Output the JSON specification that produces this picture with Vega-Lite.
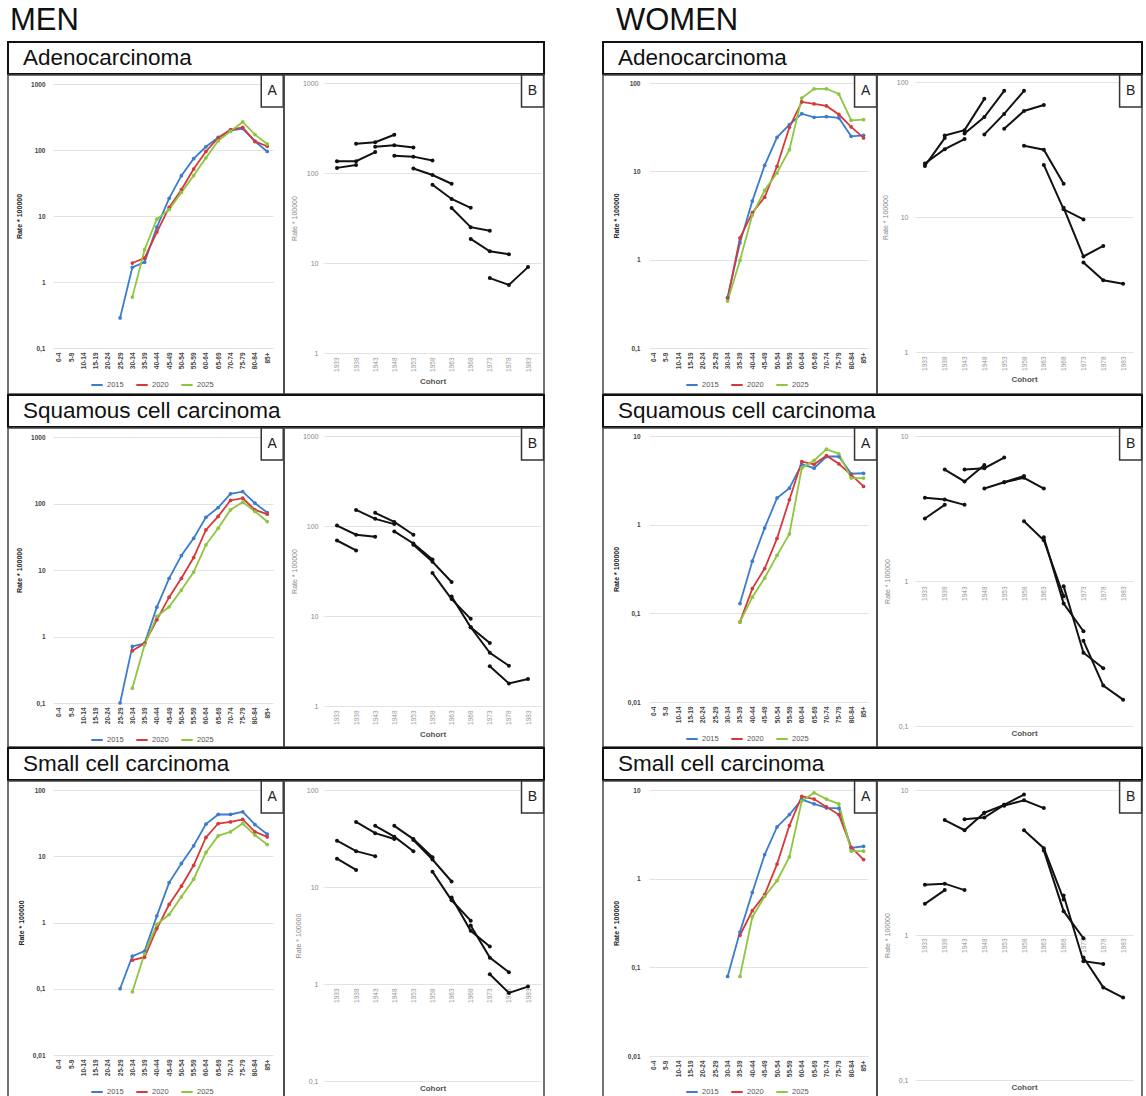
{
"$schema": "https://vega.github.io/schema/vega-lite/v6.json",
"padding": {"left": 7, "top": 5, "right": 0, "bottom": 0},
"background": "white",
"config": {
 "font": "Liberation Sans",
 "view": {"stroke": "#444", "strokeWidth": 1.5},
 "axis": {"domain": false, "ticks": false, "grid": false, "labelOverlap": false},
 "axisY": {"grid": true, "gridColor": "#e2e2e2", "gridWidth": 1, "labelPadding": 4, "titleFontSize": 7},
 "axisX": {"labelAngle": -90, "labelPadding": 2},
 "legend": {"symbolType": "stroke", "symbolStrokeWidth": 2, "symbolSize": 130, "labelFontSize": 7.5, "labelColor": "#555", "columnPadding": 8, "labelOffset": 3, "padding": 0}
},
"datasets": {
 "mAd": [
  {"a":"25-29","p":"2015","v":0.285},{"a":"30-34","p":"2015","v":1.67},{"a":"35-39","p":"2015","v":2.0},
  {"a":"40-44","p":"2015","v":6.8,"c":1973},{"a":"45-49","p":"2015","v":18.5,"c":1968},{"a":"50-54","p":"2015","v":40.8,"c":1963},
  {"a":"55-59","p":"2015","v":74,"c":1958},{"a":"60-64","p":"2015","v":112,"c":1953},{"a":"65-69","p":"2015","v":155,"c":1948},
  {"a":"70-74","p":"2015","v":196,"c":1943},{"a":"75-79","p":"2015","v":211,"c":1938},{"a":"80-84","p":"2015","v":135,"c":1933},
  {"a":"85+","p":"2015","v":95},
  {"a":"30-34","p":"2020","v":1.94},{"a":"35-39","p":"2020","v":2.3},
  {"a":"40-44","p":"2020","v":5.7,"c":1978},{"a":"45-49","p":"2020","v":13.5,"c":1973},{"a":"50-54","p":"2020","v":25,"c":1968},
  {"a":"55-59","p":"2020","v":51.5,"c":1963},{"a":"60-64","p":"2020","v":95,"c":1958},{"a":"65-69","p":"2020","v":152,"c":1953},
  {"a":"70-74","p":"2020","v":203,"c":1948},{"a":"75-79","p":"2020","v":220,"c":1943},{"a":"80-84","p":"2020","v":135,"c":1938},
  {"a":"85+","p":"2020","v":114,"c":1933},
  {"a":"30-34","p":"2025","v":0.59},{"a":"35-39","p":"2025","v":3.1},
  {"a":"40-44","p":"2025","v":9.0,"c":1983},{"a":"45-49","p":"2025","v":12.5,"c":1978},{"a":"50-54","p":"2025","v":22.8,"c":1973},
  {"a":"55-59","p":"2025","v":41,"c":1968},{"a":"60-64","p":"2025","v":76,"c":1963},{"a":"65-69","p":"2025","v":138,"c":1958},
  {"a":"70-74","p":"2025","v":192,"c":1953},{"a":"75-79","p":"2025","v":266,"c":1948},{"a":"80-84","p":"2025","v":171,"c":1943},
  {"a":"85+","p":"2025","v":123,"c":1938}
 ],
 "mSq": [
  {"a":"25-29","p":"2015","v":0.1},{"a":"30-34","p":"2015","v":0.71},{"a":"35-39","p":"2015","v":0.79},
  {"a":"40-44","p":"2015","v":2.76,"c":1973},{"a":"45-49","p":"2015","v":7.5,"c":1968},{"a":"50-54","p":"2015","v":16.5,"c":1963},
  {"a":"55-59","p":"2015","v":30,"c":1958},{"a":"60-64","p":"2015","v":62,"c":1953},{"a":"65-69","p":"2015","v":87,"c":1948},
  {"a":"70-74","p":"2015","v":140,"c":1943},{"a":"75-79","p":"2015","v":151,"c":1938},{"a":"80-84","p":"2015","v":101,"c":1933},
  {"a":"85+","p":"2015","v":73},
  {"a":"30-34","p":"2020","v":0.61},{"a":"35-39","p":"2020","v":0.79},
  {"a":"40-44","p":"2020","v":1.78,"c":1978},{"a":"45-49","p":"2020","v":3.9,"c":1973},{"a":"50-54","p":"2020","v":7.5,"c":1968},
  {"a":"55-59","p":"2020","v":15.4,"c":1963},{"a":"60-64","p":"2020","v":40,"c":1958},{"a":"65-69","p":"2020","v":64,"c":1953},
  {"a":"70-74","p":"2020","v":111,"c":1948},{"a":"75-79","p":"2020","v":120,"c":1943},{"a":"80-84","p":"2020","v":80,"c":1938},
  {"a":"85+","p":"2020","v":69,"c":1933},
  {"a":"30-34","p":"2025","v":0.167},{"a":"35-39","p":"2025","v":0.75},
  {"a":"40-44","p":"2025","v":2.0,"c":1983},{"a":"45-49","p":"2025","v":2.8,"c":1978},{"a":"50-54","p":"2025","v":5.0,"c":1973},
  {"a":"55-59","p":"2025","v":9.3,"c":1968},{"a":"60-64","p":"2025","v":23.9,"c":1963},{"a":"65-69","p":"2025","v":42.5,"c":1958},
  {"a":"70-74","p":"2025","v":80,"c":1953},{"a":"75-79","p":"2025","v":105,"c":1948},{"a":"80-84","p":"2025","v":76,"c":1943},
  {"a":"85+","p":"2025","v":53.6,"c":1938}
 ],
 "mSm": [
  {"a":"25-29","p":"2015","v":0.1},{"a":"30-34","p":"2015","v":0.31},{"a":"35-39","p":"2015","v":0.37},
  {"a":"40-44","p":"2015","v":1.26,"c":1973},{"a":"45-49","p":"2015","v":4.0,"c":1968},{"a":"50-54","p":"2015","v":7.8,"c":1963},
  {"a":"55-59","p":"2015","v":14.4,"c":1958},{"a":"60-64","p":"2015","v":30.5,"c":1953},{"a":"65-69","p":"2015","v":42.7,"c":1948},
  {"a":"70-74","p":"2015","v":42.7,"c":1943},{"a":"75-79","p":"2015","v":46.8,"c":1938},{"a":"80-84","p":"2015","v":30,"c":1933},
  {"a":"85+","p":"2015","v":21.5},
  {"a":"30-34","p":"2020","v":0.27},{"a":"35-39","p":"2020","v":0.3},
  {"a":"40-44","p":"2020","v":0.81,"c":1978},{"a":"45-49","p":"2020","v":1.87,"c":1973},{"a":"50-54","p":"2020","v":3.53,"c":1968},
  {"a":"55-59","p":"2020","v":7.3,"c":1963},{"a":"60-64","p":"2020","v":19.2,"c":1958},{"a":"65-69","p":"2020","v":31.2,"c":1953},
  {"a":"70-74","p":"2020","v":33,"c":1948},{"a":"75-79","p":"2020","v":35.9,"c":1943},{"a":"80-84","p":"2020","v":23.4,"c":1938},
  {"a":"85+","p":"2020","v":19.6,"c":1933},
  {"a":"30-34","p":"2025","v":0.09},{"a":"35-39","p":"2025","v":0.34},
  {"a":"40-44","p":"2025","v":0.94,"c":1983},{"a":"45-49","p":"2025","v":1.32,"c":1978},{"a":"50-54","p":"2025","v":2.44,"c":1973},
  {"a":"55-59","p":"2025","v":4.5,"c":1968},{"a":"60-64","p":"2025","v":11.4,"c":1963},{"a":"65-69","p":"2025","v":20.3,"c":1958},
  {"a":"70-74","p":"2025","v":23.4,"c":1953},{"a":"75-79","p":"2025","v":31.2,"c":1948},{"a":"80-84","p":"2025","v":20.8,"c":1943},
  {"a":"85+","p":"2025","v":15,"c":1938}
 ],
 "wAd": [
  {"a":"30-34","p":"2015","v":0.375},{"a":"35-39","p":"2015","v":1.55},
  {"a":"40-44","p":"2015","v":4.6,"c":1973},{"a":"45-49","p":"2015","v":11.7,"c":1968},{"a":"50-54","p":"2015","v":24.3,"c":1963},
  {"a":"55-59","p":"2015","v":33.7,"c":1958},{"a":"60-64","p":"2015","v":45,"c":1953},{"a":"65-69","p":"2015","v":40.9,"c":1948},
  {"a":"70-74","p":"2015","v":41.6,"c":1943},{"a":"75-79","p":"2015","v":40.2,"c":1938},{"a":"80-84","p":"2015","v":24.9,"c":1933},
  {"a":"85+","p":"2015","v":25.6},
  {"a":"30-34","p":"2020","v":0.36},{"a":"35-39","p":"2020","v":1.76},
  {"a":"40-44","p":"2020","v":3.4,"c":1978},{"a":"45-49","p":"2020","v":5.1,"c":1973},{"a":"50-54","p":"2020","v":11.4,"c":1968},
  {"a":"55-59","p":"2020","v":31.5,"c":1963},{"a":"60-64","p":"2020","v":61,"c":1958},{"a":"65-69","p":"2020","v":58,"c":1953},
  {"a":"70-74","p":"2020","v":55,"c":1948},{"a":"75-79","p":"2020","v":44,"c":1943},{"a":"80-84","p":"2020","v":31.8,"c":1938},
  {"a":"85+","p":"2020","v":23.9,"c":1933},
  {"a":"30-34","p":"2025","v":0.34},{"a":"35-39","p":"2025","v":0.98},
  {"a":"40-44","p":"2025","v":3.2,"c":1983},{"a":"45-49","p":"2025","v":6.1,"c":1978},{"a":"50-54","p":"2025","v":9.6,"c":1973},
  {"a":"55-59","p":"2025","v":17.6,"c":1968},{"a":"60-64","p":"2025","v":67.6,"c":1963},{"a":"65-69","p":"2025","v":86,"c":1958},
  {"a":"70-74","p":"2025","v":86,"c":1953},{"a":"75-79","p":"2025","v":75,"c":1948},{"a":"80-84","p":"2025","v":37.8,"c":1943},
  {"a":"85+","p":"2025","v":38.4,"c":1938}
 ],
 "wSq": [
  {"a":"35-39","p":"2015","v":0.129},
  {"a":"40-44","p":"2015","v":0.387,"c":1973},{"a":"45-49","p":"2015","v":0.92,"c":1968},{"a":"50-54","p":"2015","v":2.0,"c":1963},
  {"a":"55-59","p":"2015","v":2.58,"c":1958},{"a":"60-64","p":"2015","v":4.8,"c":1953},{"a":"65-69","p":"2015","v":4.34,"c":1948},
  {"a":"70-74","p":"2015","v":5.87,"c":1943},{"a":"75-79","p":"2015","v":5.87,"c":1938},{"a":"80-84","p":"2015","v":3.75,"c":1933},
  {"a":"85+","p":"2015","v":3.8},
  {"a":"35-39","p":"2020","v":0.08},
  {"a":"40-44","p":"2020","v":0.19,"c":1978},{"a":"45-49","p":"2020","v":0.32,"c":1973},{"a":"50-54","p":"2020","v":0.7,"c":1968},
  {"a":"55-59","p":"2020","v":1.91,"c":1963},{"a":"60-64","p":"2020","v":5.15,"c":1958},{"a":"65-69","p":"2020","v":4.8,"c":1953},
  {"a":"70-74","p":"2020","v":6.0,"c":1948},{"a":"75-79","p":"2020","v":4.86,"c":1943},{"a":"80-84","p":"2020","v":3.65,"c":1938},
  {"a":"85+","p":"2020","v":2.7,"c":1933},
  {"a":"35-39","p":"2025","v":0.08},
  {"a":"40-44","p":"2025","v":0.152,"c":1983},{"a":"45-49","p":"2025","v":0.25,"c":1978},{"a":"50-54","p":"2025","v":0.45,"c":1973},
  {"a":"55-59","p":"2025","v":0.785,"c":1968},{"a":"60-64","p":"2025","v":4.34,"c":1963},{"a":"65-69","p":"2025","v":5.3,"c":1958},
  {"a":"70-74","p":"2025","v":7.1,"c":1953},{"a":"75-79","p":"2025","v":6.3,"c":1948},{"a":"80-84","p":"2025","v":3.35,"c":1943},
  {"a":"85+","p":"2025","v":3.35,"c":1938}
 ],
 "wSm": [
  {"a":"30-34","p":"2015","v":0.079},{"a":"35-39","p":"2015","v":0.25},
  {"a":"40-44","p":"2015","v":0.7,"c":1973},{"a":"45-49","p":"2015","v":1.87,"c":1968},{"a":"50-54","p":"2015","v":3.83,"c":1963},
  {"a":"55-59","p":"2015","v":5.28,"c":1958},{"a":"60-64","p":"2015","v":7.8,"c":1953},{"a":"65-69","p":"2015","v":6.97,"c":1948},
  {"a":"70-74","p":"2015","v":6.28,"c":1943},{"a":"75-79","p":"2015","v":6.2,"c":1938},{"a":"80-84","p":"2015","v":2.22,"c":1933},
  {"a":"85+","p":"2015","v":2.32},
  {"a":"35-39","p":"2020","v":0.23},
  {"a":"40-44","p":"2020","v":0.435,"c":1978},{"a":"45-49","p":"2020","v":0.66,"c":1973},{"a":"50-54","p":"2020","v":1.46,"c":1968},
  {"a":"55-59","p":"2020","v":3.97,"c":1963},{"a":"60-64","p":"2020","v":8.5,"c":1958},{"a":"65-69","p":"2020","v":7.9,"c":1953},
  {"a":"70-74","p":"2020","v":6.45,"c":1948},{"a":"75-79","p":"2020","v":5.28,"c":1943},{"a":"80-84","p":"2020","v":2.26,"c":1938},
  {"a":"85+","p":"2020","v":1.64,"c":1933},
  {"a":"35-39","p":"2025","v":0.079},
  {"a":"40-44","p":"2025","v":0.37,"c":1983},{"a":"45-49","p":"2025","v":0.63,"c":1978},{"a":"50-54","p":"2025","v":0.95,"c":1973},
  {"a":"55-59","p":"2025","v":1.76,"c":1968},{"a":"60-64","p":"2025","v":7.5,"c":1963},{"a":"65-69","p":"2025","v":9.3,"c":1958},
  {"a":"70-74","p":"2025","v":7.9,"c":1953},{"a":"75-79","p":"2025","v":6.97,"c":1948},{"a":"80-84","p":"2025","v":2.04,"c":1943},
  {"a":"85+","p":"2025","v":2.04,"c":1938}
 ]
},
"spacing": 54,
"resolve": {"scale": {"color": "independent"}, "legend": {"color": "independent"}},
"hconcat": [
 {
  "title": {"text": "MEN", "fontSize": 31, "fontWeight": "normal", "anchor": "start", "offset": 4, "dx": 3, "color": "#111"},
  "spacing": -4,
  "resolve": {"scale": {"color": "independent"}, "legend": {"color": "independent"}},
  "vconcat": [
   {"width": 536, "height": 32, "view": {"stroke": "#111", "strokeWidth": 2},
    "data": {"values": [{"label": "Adenocarcinoma"}]},
    "mark": {"type": "text", "align": "left", "baseline": "middle", "fontSize": 22.5, "dx": 15, "color": "#111"},
    "encoding": {"text": {"field": "label"}, "x": {"datum": 0, "type": "quantitative", "scale": {"domain": [0, 1]}, "axis": null}}},
   {"hconcat": [
     {"width": 276, "height": 319, "data": {"name": "mAd"},
      "layer": [
       {"mark": {"type": "line", "strokeWidth": 1.8, "point": {"filled": true, "size": 14}},
        "encoding": {
         "x": {"field": "a", "type": "ordinal", "scale": {"domain": ["0-4","5-9","10-14","15-19","20-24","25-29","30-34","35-39","40-44","45-49","50-54","55-59","60-64","65-69","70-74","75-79","80-84","85+"], "range": [45, 265], "padding": 0.47},
               "axis": {"title": null, "offset": -44, "labelFontSize": 6.5, "labelFontWeight": "bold", "labelColor": "#444"}},
         "y": {"field": "v", "type": "quantitative", "scale": {"type": "log", "domain": [0.1, 1000], "range": [273, 9], "nice": false},
               "axis": {"title": "Rate * 100000", "values": [0.1, 1, 10, 100, 1000], "labelExpr": "replace(toString(datum.value), '.', ',')", "offset": -41, "labelFontSize": 6.5, "labelFontWeight": "bold", "labelColor": "#444", "titleFontWeight": "bold", "titleColor": "#222", "titlePadding": 8}},
         "color": {"field": "p", "type": "nominal", "scale": {"domain": ["2015", "2020", "2025"], "range": ["#3c7ccc", "#d6393b", "#8dc63f"]},
                   "legend": {"orient": "none", "legendX": 82, "legendY": 303, "direction": "horizontal", "title": null}}}},
       {"data": {"values": [{"l": "A"}]}, "mark": {"type": "point", "shape": "M-0.6875,-1H0.6875V1H-0.6875Z", "size": 1024, "filled": true, "fill": "white", "stroke": "#333", "strokeWidth": 1.5, "opacity": 1, "xOffset": 5, "yOffset": 7},
        "encoding": {"x": {"datum": "85+", "type": "ordinal"}, "y": {"datum": 1000, "type": "quantitative"}}},
       {"data": {"values": [{"l": "A"}]}, "mark": {"type": "text", "fontSize": 14, "color": "#222", "align": "center", "baseline": "middle", "xOffset": 5, "yOffset": 7},
        "encoding": {"x": {"datum": "85+", "type": "ordinal"}, "y": {"datum": 1000, "type": "quantitative"}, "text": {"field": "l"}}}
      ]},
     {"width": 260, "height": 319, "data": {"name": "mAd"},
      "layer": [
       {"transform": [{"filter": "isValid(datum.c)"}],
        "mark": {"type": "line", "color": "#111", "strokeWidth": 2, "point": {"filled": true, "size": 16, "color": "#111"}},
        "encoding": {
         "x": {"field": "c", "type": "ordinal", "scale": {"domain": [1933,1938,1943,1948,1953,1958,1963,1968,1973,1978,1983], "range": [40, 257], "padding": 0.68},
               "axis": {"title": "Cohort", "offset": -39, "labelFontSize": 6.5, "labelColor": "#999", "titleFontSize": 8, "titleFontWeight": "bold", "titleColor": "#555", "titleY": 26, "titleBaseline": "middle"}},
         "y": {"field": "v", "type": "quantitative", "scale": {"type": "log", "domain": [1, 1000], "range": [278, 8], "nice": false},
               "axis": {"title": "Rate * 100000", "values": [1, 10, 100, 1000], "labelExpr": "replace(toString(datum.value), '.', ',')", "offset": -37, "labelPadding": 3, "labelFontSize": 7, "labelColor": "#888", "titleFontWeight": "normal", "titleColor": "#888", "titlePadding": 5}},
         "detail": {"field": "a"}}},
       {"data": {"values": [{"l": "B"}]}, "mark": {"type": "point", "shape": "M-0.6875,-1H0.6875V1H-0.6875Z", "size": 1024, "filled": true, "fill": "white", "stroke": "#333", "strokeWidth": 1.5, "opacity": 1, "xOffset": 4.5, "yOffset": 8},
        "encoding": {"x": {"datum": 1983, "type": "ordinal"}, "y": {"datum": 1000, "type": "quantitative"}}},
       {"data": {"values": [{"l": "B"}]}, "mark": {"type": "text", "fontSize": 14, "color": "#222", "align": "center", "baseline": "middle", "xOffset": 4.5, "yOffset": 8},
        "encoding": {"x": {"datum": 1983, "type": "ordinal"}, "y": {"datum": 1000, "type": "quantitative"}, "text": {"field": "l"}}}
      ]}
    ], "spacing": 0, "bounds": "flush", "resolve": {"scale": {"color": "independent"}, "legend": {"color": "independent"}}},
   {"width": 536, "height": 32, "view": {"stroke": "#111", "strokeWidth": 2},
    "data": {"values": [{"label": "Squamous cell carcinoma"}]},
    "mark": {"type": "text", "align": "left", "baseline": "middle", "fontSize": 22.5, "dx": 15, "color": "#111"},
    "encoding": {"text": {"field": "label"}, "x": {"datum": 0, "type": "quantitative", "scale": {"domain": [0, 1]}, "axis": null}}},
   {"hconcat": [
     {"width": 276, "height": 319, "data": {"name": "mSq"},
      "layer": [
       {"mark": {"type": "line", "strokeWidth": 1.8, "point": {"filled": true, "size": 14}},
        "encoding": {
         "x": {"field": "a", "type": "ordinal", "scale": {"domain": ["0-4","5-9","10-14","15-19","20-24","25-29","30-34","35-39","40-44","45-49","50-54","55-59","60-64","65-69","70-74","75-79","80-84","85+"], "range": [45, 265], "padding": 0.47},
               "axis": {"title": null, "offset": -42, "labelFontSize": 6.5, "labelFontWeight": "bold", "labelColor": "#444"}},
         "y": {"field": "v", "type": "quantitative", "scale": {"type": "log", "domain": [0.1, 1000], "range": [275, 9], "nice": false},
               "axis": {"title": "Rate * 100000", "values": [0.1, 1, 10, 100, 1000], "labelExpr": "replace(toString(datum.value), '.', ',')", "offset": -41, "labelFontSize": 6.5, "labelFontWeight": "bold", "labelColor": "#444", "titleFontWeight": "bold", "titleColor": "#222", "titlePadding": 8}},
         "color": {"field": "p", "type": "nominal", "scale": {"domain": ["2015", "2020", "2025"], "range": ["#3c7ccc", "#d6393b", "#8dc63f"]},
                   "legend": {"orient": "none", "legendX": 82, "legendY": 305, "direction": "horizontal", "title": null}}}},
       {"data": {"values": [{"l": "A"}]}, "mark": {"type": "point", "shape": "M-0.6875,-1H0.6875V1H-0.6875Z", "size": 1024, "filled": true, "fill": "white", "stroke": "#333", "strokeWidth": 1.5, "opacity": 1, "xOffset": 5, "yOffset": 7},
        "encoding": {"x": {"datum": "85+", "type": "ordinal"}, "y": {"datum": 1000, "type": "quantitative"}}},
       {"data": {"values": [{"l": "A"}]}, "mark": {"type": "text", "fontSize": 14, "color": "#222", "align": "center", "baseline": "middle", "xOffset": 5, "yOffset": 7},
        "encoding": {"x": {"datum": "85+", "type": "ordinal"}, "y": {"datum": 1000, "type": "quantitative"}, "text": {"field": "l"}}}
      ]},
     {"width": 260, "height": 319, "data": {"name": "mSq"},
      "layer": [
       {"transform": [{"filter": "isValid(datum.c)"}],
        "mark": {"type": "line", "color": "#111", "strokeWidth": 2, "point": {"filled": true, "size": 16, "color": "#111"}},
        "encoding": {
         "x": {"field": "c", "type": "ordinal", "scale": {"domain": [1933,1938,1943,1948,1953,1958,1963,1968,1973,1978,1983], "range": [40, 257], "padding": 0.68},
               "axis": {"title": "Cohort", "offset": -39, "labelFontSize": 6.5, "labelColor": "#999", "titleFontSize": 8, "titleFontWeight": "bold", "titleColor": "#555", "titleY": 26, "titleBaseline": "middle"}},
         "y": {"field": "v", "type": "quantitative", "scale": {"type": "log", "domain": [1, 1000], "range": [278, 8], "nice": false},
               "axis": {"title": "Rate * 100000", "values": [1, 10, 100, 1000], "labelExpr": "replace(toString(datum.value), '.', ',')", "offset": -37, "labelPadding": 3, "labelFontSize": 7, "labelColor": "#888", "titleFontWeight": "normal", "titleColor": "#888", "titlePadding": 5}},
         "detail": {"field": "a"}}},
       {"data": {"values": [{"l": "B"}]}, "mark": {"type": "point", "shape": "M-0.6875,-1H0.6875V1H-0.6875Z", "size": 1024, "filled": true, "fill": "white", "stroke": "#333", "strokeWidth": 1.5, "opacity": 1, "xOffset": 4.5, "yOffset": 8},
        "encoding": {"x": {"datum": 1983, "type": "ordinal"}, "y": {"datum": 1000, "type": "quantitative"}}},
       {"data": {"values": [{"l": "B"}]}, "mark": {"type": "text", "fontSize": 14, "color": "#222", "align": "center", "baseline": "middle", "xOffset": 4.5, "yOffset": 8},
        "encoding": {"x": {"datum": 1983, "type": "ordinal"}, "y": {"datum": 1000, "type": "quantitative"}, "text": {"field": "l"}}}
      ]}
    ], "spacing": 0, "bounds": "flush", "resolve": {"scale": {"color": "independent"}, "legend": {"color": "independent"}}},
   {"width": 536, "height": 32, "view": {"stroke": "#111", "strokeWidth": 2},
    "data": {"values": [{"label": "Small cell carcinoma"}]},
    "mark": {"type": "text", "align": "left", "baseline": "middle", "fontSize": 22.5, "dx": 15, "color": "#111"},
    "encoding": {"text": {"field": "label"}, "x": {"datum": 0, "type": "quantitative", "scale": {"domain": [0, 1]}, "axis": null}}},
   {"hconcat": [
     {"width": 276, "height": 319, "data": {"name": "mSm"},
      "layer": [
       {"mark": {"type": "line", "strokeWidth": 1.8, "point": {"filled": true, "size": 14}},
        "encoding": {
         "x": {"field": "a", "type": "ordinal", "scale": {"domain": ["0-4","5-9","10-14","15-19","20-24","25-29","30-34","35-39","40-44","45-49","50-54","55-59","60-64","65-69","70-74","75-79","80-84","85+"], "range": [45, 265], "padding": 0.47},
               "axis": {"title": null, "offset": -43, "labelFontSize": 6.5, "labelFontWeight": "bold", "labelColor": "#444"}},
         "y": {"field": "v", "type": "quantitative", "scale": {"type": "log", "domain": [0.01, 100], "range": [274, 9], "nice": false},
               "axis": {"title": "Rate * 100000", "values": [0.01, 0.1, 1, 10, 100], "labelExpr": "replace(toString(datum.value), '.', ',')", "offset": -41, "labelFontSize": 6.5, "labelFontWeight": "bold", "labelColor": "#444", "titleFontWeight": "bold", "titleColor": "#222", "titlePadding": 8}},
         "color": {"field": "p", "type": "nominal", "scale": {"domain": ["2015", "2020", "2025"], "range": ["#3c7ccc", "#d6393b", "#8dc63f"]},
                   "legend": {"orient": "none", "legendX": 82, "legendY": 304, "direction": "horizontal", "title": null}}}},
       {"data": {"values": [{"l": "A"}]}, "mark": {"type": "point", "shape": "M-0.6875,-1H0.6875V1H-0.6875Z", "size": 1024, "filled": true, "fill": "white", "stroke": "#333", "strokeWidth": 1.5, "opacity": 1, "xOffset": 5, "yOffset": 7},
        "encoding": {"x": {"datum": "85+", "type": "ordinal"}, "y": {"datum": 100, "type": "quantitative"}}},
       {"data": {"values": [{"l": "A"}]}, "mark": {"type": "text", "fontSize": 14, "color": "#222", "align": "center", "baseline": "middle", "xOffset": 5, "yOffset": 7},
        "encoding": {"x": {"datum": "85+", "type": "ordinal"}, "y": {"datum": 100, "type": "quantitative"}, "text": {"field": "l"}}}
      ]},
     {"width": 260, "height": 319, "data": {"name": "mSm"},
      "layer": [
       {"transform": [{"filter": "isValid(datum.c)"}],
        "mark": {"type": "line", "color": "#111", "strokeWidth": 2, "point": {"filled": true, "size": 16, "color": "#111"}},
        "encoding": {
         "x": {"field": "c", "type": "ordinal", "scale": {"domain": [1933,1938,1943,1948,1953,1958,1963,1968,1973,1978,1983], "range": [40, 257], "padding": 0.68},
               "axis": {"title": "Cohort", "offset": -114, "labelFontSize": 6.5, "labelColor": "#999", "titleFontSize": 8, "titleFontWeight": "bold", "titleColor": "#555", "titleY": 102, "titleBaseline": "middle"}},
         "y": {"field": "v", "type": "quantitative", "scale": {"type": "log", "domain": [0.1, 100], "range": [300, 9], "nice": false},
               "axis": {"title": "Rate * 100000", "values": [0.1, 1, 10, 100], "labelExpr": "replace(toString(datum.value), '.', ',')", "offset": -37, "labelPadding": 3, "labelFontSize": 7, "labelColor": "#888", "titleFontWeight": "normal", "titleColor": "#888", "titlePadding": 5}},
         "detail": {"field": "a"}}},
       {"data": {"values": [{"l": "B"}]}, "mark": {"type": "point", "shape": "M-0.6875,-1H0.6875V1H-0.6875Z", "size": 1024, "filled": true, "fill": "white", "stroke": "#333", "strokeWidth": 1.5, "opacity": 1, "xOffset": 4.5, "yOffset": 7},
        "encoding": {"x": {"datum": 1983, "type": "ordinal"}, "y": {"datum": 100, "type": "quantitative"}}},
       {"data": {"values": [{"l": "B"}]}, "mark": {"type": "text", "fontSize": 14, "color": "#222", "align": "center", "baseline": "middle", "xOffset": 4.5, "yOffset": 7},
        "encoding": {"x": {"datum": 1983, "type": "ordinal"}, "y": {"datum": 100, "type": "quantitative"}, "text": {"field": "l"}}}
      ]}
    ], "spacing": 0, "bounds": "flush", "resolve": {"scale": {"color": "independent"}, "legend": {"color": "independent"}}}
  ]
 },
 {
  "title": {"text": "WOMEN", "fontSize": 31, "fontWeight": "normal", "anchor": "start", "offset": 4, "dx": 14, "color": "#111"},
  "spacing": -4,
  "resolve": {"scale": {"color": "independent"}, "legend": {"color": "independent"}},
  "vconcat": [
   {"width": 539, "height": 32, "view": {"stroke": "#111", "strokeWidth": 2},
    "data": {"values": [{"label": "Adenocarcinoma"}]},
    "mark": {"type": "text", "align": "left", "baseline": "middle", "fontSize": 22.5, "dx": 15, "color": "#111"},
    "encoding": {"text": {"field": "label"}, "x": {"datum": 0, "type": "quantitative", "scale": {"domain": [0, 1]}, "axis": null}}},
   {"hconcat": [
     {"width": 274, "height": 319, "data": {"name": "wAd"},
      "layer": [
       {"mark": {"type": "line", "strokeWidth": 1.8, "point": {"filled": true, "size": 14}},
        "encoding": {
         "x": {"field": "a", "type": "ordinal", "scale": {"domain": ["0-4","5-9","10-14","15-19","20-24","25-29","30-34","35-39","40-44","45-49","50-54","55-59","60-64","65-69","70-74","75-79","80-84","85+"], "range": [46, 265], "padding": 0.36},
               "axis": {"title": null, "offset": -44, "labelFontSize": 6.5, "labelFontWeight": "bold", "labelColor": "#444"}},
         "y": {"field": "v", "type": "quantitative", "scale": {"type": "log", "domain": [0.1, 100], "range": [273, 8], "nice": false},
               "axis": {"title": "Rate * 100000", "values": [0.1, 1, 10, 100], "labelExpr": "replace(toString(datum.value), '.', ',')", "offset": -41, "labelFontSize": 6.5, "labelFontWeight": "bold", "labelColor": "#444", "titleFontWeight": "bold", "titleColor": "#222", "titlePadding": 10}},
         "color": {"field": "p", "type": "nominal", "scale": {"domain": ["2015", "2020", "2025"], "range": ["#3c7ccc", "#d6393b", "#8dc63f"]},
                   "legend": {"orient": "none", "legendX": 82, "legendY": 303, "direction": "horizontal", "title": null}}}},
       {"data": {"values": [{"l": "A"}]}, "mark": {"type": "point", "shape": "M-0.6875,-1H0.6875V1H-0.6875Z", "size": 1024, "filled": true, "fill": "white", "stroke": "#333", "strokeWidth": 1.5, "opacity": 1, "xOffset": 2, "yOffset": 8},
        "encoding": {"x": {"datum": "85+", "type": "ordinal"}, "y": {"datum": 100, "type": "quantitative"}}},
       {"data": {"values": [{"l": "A"}]}, "mark": {"type": "text", "fontSize": 14, "color": "#222", "align": "center", "baseline": "middle", "xOffset": 2, "yOffset": 8},
        "encoding": {"x": {"datum": "85+", "type": "ordinal"}, "y": {"datum": 100, "type": "quantitative"}, "text": {"field": "l"}}}
      ]},
     {"width": 265, "height": 319, "data": {"name": "wAd"},
      "layer": [
       {"transform": [{"filter": "isValid(datum.c)"}],
        "mark": {"type": "line", "color": "#111", "strokeWidth": 2, "point": {"filled": true, "size": 16, "color": "#111"}},
        "encoding": {
         "x": {"field": "c", "type": "ordinal", "scale": {"domain": [1933,1938,1943,1948,1953,1958,1963,1968,1973,1978,1983], "range": [38, 256], "padding": 0.5},
               "axis": {"title": "Cohort", "offset": -40, "labelFontSize": 6.5, "labelColor": "#999", "titleFontSize": 8, "titleFontWeight": "bold", "titleColor": "#555", "titleY": 25, "titleBaseline": "middle"}},
         "y": {"field": "v", "type": "quantitative", "scale": {"type": "log", "domain": [1, 100], "range": [277, 7], "nice": false},
               "axis": {"title": "Rate * 100000", "values": [1, 10, 100], "labelExpr": "replace(toString(datum.value), '.', ',')", "offset": -34, "labelPadding": 3, "labelFontSize": 7, "labelColor": "#888", "titleFontWeight": "normal", "titleColor": "#888", "titlePadding": 8}},
         "detail": {"field": "a"}}},
       {"data": {"values": [{"l": "B"}]}, "mark": {"type": "point", "shape": "M-0.6875,-1H0.6875V1H-0.6875Z", "size": 1024, "filled": true, "fill": "white", "stroke": "#333", "strokeWidth": 1.5, "opacity": 1, "xOffset": 7.5, "yOffset": 9},
        "encoding": {"x": {"datum": 1983, "type": "ordinal"}, "y": {"datum": 100, "type": "quantitative"}}},
       {"data": {"values": [{"l": "B"}]}, "mark": {"type": "text", "fontSize": 14, "color": "#222", "align": "center", "baseline": "middle", "xOffset": 7.5, "yOffset": 9},
        "encoding": {"x": {"datum": 1983, "type": "ordinal"}, "y": {"datum": 100, "type": "quantitative"}, "text": {"field": "l"}}}
      ]}
    ], "spacing": 0, "bounds": "flush", "resolve": {"scale": {"color": "independent"}, "legend": {"color": "independent"}}},
   {"width": 539, "height": 32, "view": {"stroke": "#111", "strokeWidth": 2},
    "data": {"values": [{"label": "Squamous cell carcinoma"}]},
    "mark": {"type": "text", "align": "left", "baseline": "middle", "fontSize": 22.5, "dx": 15, "color": "#111"},
    "encoding": {"text": {"field": "label"}, "x": {"datum": 0, "type": "quantitative", "scale": {"domain": [0, 1]}, "axis": null}}},
   {"hconcat": [
     {"width": 274, "height": 319, "data": {"name": "wSq"},
      "layer": [
       {"mark": {"type": "line", "strokeWidth": 1.8, "point": {"filled": true, "size": 14}},
        "encoding": {
         "x": {"field": "a", "type": "ordinal", "scale": {"domain": ["0-4","5-9","10-14","15-19","20-24","25-29","30-34","35-39","40-44","45-49","50-54","55-59","60-64","65-69","70-74","75-79","80-84","85+"], "range": [46, 265], "padding": 0.36},
               "axis": {"title": null, "offset": -43, "labelFontSize": 6.5, "labelFontWeight": "bold", "labelColor": "#444"}},
         "y": {"field": "v", "type": "quantitative", "scale": {"type": "log", "domain": [0.01, 10], "range": [274, 8], "nice": false},
               "axis": {"title": "Rate * 100000", "values": [0.01, 0.1, 1, 10], "labelExpr": "replace(toString(datum.value), '.', ',')", "offset": -41, "labelFontSize": 6.5, "labelFontWeight": "bold", "labelColor": "#444", "titleFontWeight": "bold", "titleColor": "#222", "titlePadding": 8}},
         "color": {"field": "p", "type": "nominal", "scale": {"domain": ["2015", "2020", "2025"], "range": ["#3c7ccc", "#d6393b", "#8dc63f"]},
                   "legend": {"orient": "none", "legendX": 82, "legendY": 304, "direction": "horizontal", "title": null}}}},
       {"data": {"values": [{"l": "A"}]}, "mark": {"type": "point", "shape": "M-0.6875,-1H0.6875V1H-0.6875Z", "size": 1024, "filled": true, "fill": "white", "stroke": "#333", "strokeWidth": 1.5, "opacity": 1, "xOffset": 2, "yOffset": 8},
        "encoding": {"x": {"datum": "85+", "type": "ordinal"}, "y": {"datum": 10, "type": "quantitative"}}},
       {"data": {"values": [{"l": "A"}]}, "mark": {"type": "text", "fontSize": 14, "color": "#222", "align": "center", "baseline": "middle", "xOffset": 2, "yOffset": 8},
        "encoding": {"x": {"datum": "85+", "type": "ordinal"}, "y": {"datum": 10, "type": "quantitative"}, "text": {"field": "l"}}}
      ]},
     {"width": 265, "height": 319, "data": {"name": "wSq"},
      "layer": [
       {"transform": [{"filter": "isValid(datum.c)"}],
        "mark": {"type": "line", "color": "#111", "strokeWidth": 2, "point": {"filled": true, "size": 16, "color": "#111"}},
        "encoding": {
         "x": {"field": "c", "type": "ordinal", "scale": {"domain": [1933,1938,1943,1948,1953,1958,1963,1968,1973,1978,1983], "range": [38, 256], "padding": 0.5},
               "axis": {"title": "Cohort", "offset": -163, "labelFontSize": 6.5, "labelColor": "#999", "titleFontSize": 8, "titleFontWeight": "bold", "titleColor": "#555", "titleY": 149, "titleBaseline": "middle"}},
         "y": {"field": "v", "type": "quantitative", "scale": {"type": "log", "domain": [0.1, 10], "range": [298, 8], "nice": false},
               "axis": {"title": "Rate * 100000", "values": [0.1, 1, 10], "labelExpr": "replace(toString(datum.value), '.', ',')", "offset": -34, "labelPadding": 3, "labelFontSize": 7, "labelColor": "#888", "titleFontWeight": "normal", "titleColor": "#888", "titlePadding": 8}},
         "detail": {"field": "a"}}},
       {"data": {"values": [{"l": "B"}]}, "mark": {"type": "point", "shape": "M-0.6875,-1H0.6875V1H-0.6875Z", "size": 1024, "filled": true, "fill": "white", "stroke": "#333", "strokeWidth": 1.5, "opacity": 1, "xOffset": 7.5, "yOffset": 8},
        "encoding": {"x": {"datum": 1983, "type": "ordinal"}, "y": {"datum": 10, "type": "quantitative"}}},
       {"data": {"values": [{"l": "B"}]}, "mark": {"type": "text", "fontSize": 14, "color": "#222", "align": "center", "baseline": "middle", "xOffset": 7.5, "yOffset": 8},
        "encoding": {"x": {"datum": 1983, "type": "ordinal"}, "y": {"datum": 10, "type": "quantitative"}, "text": {"field": "l"}}}
      ]}
    ], "spacing": 0, "bounds": "flush", "resolve": {"scale": {"color": "independent"}, "legend": {"color": "independent"}}},
   {"width": 539, "height": 32, "view": {"stroke": "#111", "strokeWidth": 2},
    "data": {"values": [{"label": "Small cell carcinoma"}]},
    "mark": {"type": "text", "align": "left", "baseline": "middle", "fontSize": 22.5, "dx": 15, "color": "#111"},
    "encoding": {"text": {"field": "label"}, "x": {"datum": 0, "type": "quantitative", "scale": {"domain": [0, 1]}, "axis": null}}},
   {"hconcat": [
     {"width": 274, "height": 319, "data": {"name": "wSm"},
      "layer": [
       {"mark": {"type": "line", "strokeWidth": 1.8, "point": {"filled": true, "size": 14}},
        "encoding": {
         "x": {"field": "a", "type": "ordinal", "scale": {"domain": ["0-4","5-9","10-14","15-19","20-24","25-29","30-34","35-39","40-44","45-49","50-54","55-59","60-64","65-69","70-74","75-79","80-84","85+"], "range": [46, 265], "padding": 0.36},
               "axis": {"title": null, "offset": -42, "labelFontSize": 6.5, "labelFontWeight": "bold", "labelColor": "#444"}},
         "y": {"field": "v", "type": "quantitative", "scale": {"type": "log", "domain": [0.01, 10], "range": [275, 9], "nice": false},
               "axis": {"title": "Rate * 100000", "values": [0.01, 0.1, 1, 10], "labelExpr": "replace(toString(datum.value), '.', ',')", "offset": -41, "labelFontSize": 6.5, "labelFontWeight": "bold", "labelColor": "#444", "titleFontWeight": "bold", "titleColor": "#222", "titlePadding": 8}},
         "color": {"field": "p", "type": "nominal", "scale": {"domain": ["2015", "2020", "2025"], "range": ["#3c7ccc", "#d6393b", "#8dc63f"]},
                   "legend": {"orient": "none", "legendX": 82, "legendY": 304, "direction": "horizontal", "title": null}}}},
       {"data": {"values": [{"l": "A"}]}, "mark": {"type": "point", "shape": "M-0.6875,-1H0.6875V1H-0.6875Z", "size": 1024, "filled": true, "fill": "white", "stroke": "#333", "strokeWidth": 1.5, "opacity": 1, "xOffset": 2, "yOffset": 7},
        "encoding": {"x": {"datum": "85+", "type": "ordinal"}, "y": {"datum": 10, "type": "quantitative"}}},
       {"data": {"values": [{"l": "A"}]}, "mark": {"type": "text", "fontSize": 14, "color": "#222", "align": "center", "baseline": "middle", "xOffset": 2, "yOffset": 7},
        "encoding": {"x": {"datum": "85+", "type": "ordinal"}, "y": {"datum": 10, "type": "quantitative"}, "text": {"field": "l"}}}
      ]},
     {"width": 265, "height": 319, "data": {"name": "wSm"},
      "layer": [
       {"transform": [{"filter": "isValid(datum.c)"}],
        "mark": {"type": "line", "color": "#111", "strokeWidth": 2, "point": {"filled": true, "size": 16, "color": "#111"}},
        "encoding": {
         "x": {"field": "c", "type": "ordinal", "scale": {"domain": [1933,1938,1943,1948,1953,1958,1963,1968,1973,1978,1983], "range": [38, 256], "padding": 0.5},
               "axis": {"title": "Cohort", "offset": -164, "labelFontSize": 6.5, "labelColor": "#999", "titleFontSize": 8, "titleFontWeight": "bold", "titleColor": "#555", "titleY": 151, "titleBaseline": "middle"}},
         "y": {"field": "v", "type": "quantitative", "scale": {"type": "log", "domain": [0.1, 10], "range": [299, 9], "nice": false},
               "axis": {"title": "Rate * 100000", "values": [0.1, 1, 10], "labelExpr": "replace(toString(datum.value), '.', ',')", "offset": -34, "labelPadding": 3, "labelFontSize": 7, "labelColor": "#888", "titleFontWeight": "normal", "titleColor": "#888", "titlePadding": 8}},
         "detail": {"field": "a"}}},
       {"data": {"values": [{"l": "B"}]}, "mark": {"type": "point", "shape": "M-0.6875,-1H0.6875V1H-0.6875Z", "size": 1024, "filled": true, "fill": "white", "stroke": "#333", "strokeWidth": 1.5, "opacity": 1, "xOffset": 7.5, "yOffset": 7},
        "encoding": {"x": {"datum": 1983, "type": "ordinal"}, "y": {"datum": 10, "type": "quantitative"}}},
       {"data": {"values": [{"l": "B"}]}, "mark": {"type": "text", "fontSize": 14, "color": "#222", "align": "center", "baseline": "middle", "xOffset": 7.5, "yOffset": 7},
        "encoding": {"x": {"datum": 1983, "type": "ordinal"}, "y": {"datum": 10, "type": "quantitative"}, "text": {"field": "l"}}}
      ]}
    ], "spacing": 0, "bounds": "flush", "resolve": {"scale": {"color": "independent"}, "legend": {"color": "independent"}}}
  ]
 }
]
}
